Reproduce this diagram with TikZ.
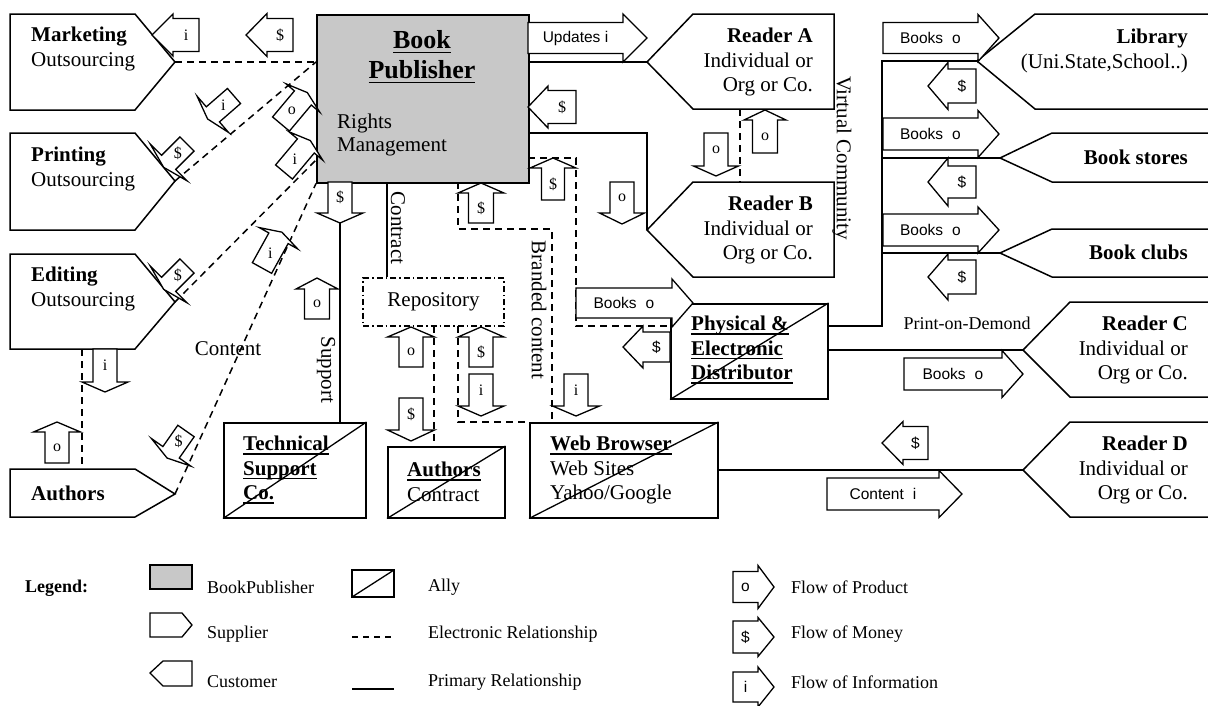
\documentclass[tikz,border=0pt]{standalone}
\usepackage{fontspec}
\setmainfont{Liberation Serif}
\newfontfamily\sansf{Liberation Sans}
\definecolor{pubgray}{RGB}{200,200,200}
\newcommand\ulb[1]{\setbox0\hbox{#1}\rlap{\rule[-0.19em]{\wd0}{0.075em}}\box0}
\newcommand\blk[9]{%
  \begin{scope}[shift={(#1,#2)},rotate=#3]
    \draw[blkst] (0,-#6) -- (#4,-#6) -- (#4,-#7) -- ({#4+#5},0) -- (#4,#7) -- (#4,#6) -- (0,#6) -- cycle;
    \node[#9] at ({#4/2},0) {#8};
  \end{scope}}
\tikzset{
  ln/.style={line width=1.5pt},
  el/.style={line width=1.5pt, dash pattern=on 7pt off 5pt},
  shp/.style={draw, line width=1.5pt, fill=white, line join=miter},
  blkst/.style={draw, line width=1.3pt, fill=white, line join=miter},
  lbls/.style={inner sep=0pt, font=\fontsize{16}{18}\selectfont},
  lblf/.style={inner sep=0pt, font=\sansf\fontsize{15.5}{17}\selectfont},
  big/.style={inner sep=0pt, font=\fontsize{21}{24.5}\selectfont, align=left},
  bigb/.style={inner sep=0pt, font=\bfseries\fontsize{21}{24.5}\selectfont, align=left},
  bigr/.style={inner sep=0pt, font=\fontsize{21}{24.5}\selectfont, align=right, anchor=east},
  rot/.style={inner sep=0pt, font=\fontsize{21}{24.5}\selectfont, rotate=-90},
  leg/.style={inner sep=0pt, font=\fontsize{18}{20}\selectfont, anchor=west},
  ally/.style={draw, line width=1.5pt, fill=white, anchor=north west, inner sep=0pt},
}
\begin{document}
\begin{tikzpicture}[x=1pt,y=-1pt]
\useasboundingbox (0,0) rectangle (1208,705);

% ---------- named points ----------
\coordinate (mktP) at (175,62);
\coordinate (prtP) at (175,181);
\coordinate (edtP) at (175,302);
\coordinate (autP) at (175,494);
\coordinate (edtB) at (82,349);
\coordinate (autTop) at (82,469);
\coordinate (rdAP) at (647,62);
\coordinate (rdBP) at (647,230);
\coordinate (rdAB) at (740,109);
\coordinate (rdBT) at (740,182);
\coordinate (libP) at (977,61);
\coordinate (bsP) at (1000,158);
\coordinate (bcP) at (1000,253);
\coordinate (rdCP) at (1023,350);
\coordinate (rdDP) at (1023,470);

% ---------- main boxes ----------
\node[draw, line width=1.5pt, fill=pubgray, anchor=north west, minimum width=212pt, minimum height=168pt, inner sep=0pt] (pub) at (316,14) {};
\node[ally, minimum width=157pt, minimum height=95pt] (phys) at (670,303) {};
\node[ally, minimum width=188pt, minimum height=95pt] (web) at (529,422) {};
\node[ally, minimum width=117pt, minimum height=71pt] (acon) at (387,446) {};
\node[ally, minimum width=142pt, minimum height=95pt] (tech) at (223,422) {};
\node[draw, line width=1.3pt, dash pattern=on 6pt off 3pt on 1.5pt off 3pt, minimum width=141pt, minimum height=48pt, inner sep=0pt, font=\fontsize{21}{24.5}\selectfont] (repo) at (433.5,302) {Repository};

% helper points on boxes
\coordinate (pubL1) at (pub.west |- mktP);
\coordinate (pubL2) at (316,160);
\coordinate (pubR1) at (pub.east |- rdAP);
\coordinate (pubR2) at (528,133);
\coordinate (pubR3) at (528,158);
\coordinate (pubB1) at (340,182);
\coordinate (pubB2) at (387,182);
\coordinate (pubB3) at (458,182);
\coordinate (techT) at (tech.north -| pubB1);
\coordinate (repoT) at (repo.north -| pubB2);
\coordinate (repoB1) at (434,326);
\coordinate (repoB2) at (458,326);
\coordinate (aconT) at (acon.north -| repoB1);
\coordinate (webT) at (552,422);
\coordinate (physL) at (670,326);
\coordinate (physR1) at (827,326);
\coordinate (physR2) at (827,350);
\coordinate (webR) at (717,470);
\coordinate (trunk) at (882,326);

% ---------- connectors ----------
\draw[el] (mktP) -- (pubL1);
\draw[el] (prtP) -- (pubL1);
\draw[el] (edtP) -- (pubL2);
\draw[el] (autP) -- (pub.south west);
\draw[el] (edtB) -- (autTop);
\draw[ln] (pubR1) -- (rdAP);
\draw[ln] (pubR2) -| (rdBP);
\draw[el] (rdAB) -- (rdBT);
\draw[ln] (pubB1) -- (techT);
\draw[ln] (pubB2) -- (repoT);
\draw[el] (repoB1) -- (aconT);
\draw[el] (pubB3) -- (458,229) -- (552,229) -- (webT);
\draw[el] (repoB2) -- (458,422) -- (web.north west);
\draw[el] (pubR3) -- (576,158) -- (576,326) -- (physL);
\draw[ln] (physR1) -- (trunk) -- (882,61) -- (libP);
\draw[ln] (882,158) -- (bsP);
\draw[ln] (882,253) -- (bcP);
\draw[ln] (physR2) -- (rdCP);
\draw[ln] (webR) -- (rdDP);

% ---------- supplier / customer shapes ----------
\draw[shp] (10,14) -- (135,14) -- (mktP) -- (135,110) -- (10,110) -- cycle;
\draw[shp] (10,133) -- (135,133) -- (prtP) -- (135,230) -- (10,230) -- cycle;
\draw[shp] (10,254) -- (135,254) -- (edtP) -- (135,349) -- (10,349) -- cycle;
\draw[shp] (10,469) -- (135,469) -- (autP) -- (135,517) -- (10,517) -- cycle;
\draw[shp] (834,14) -- (693,14) -- (rdAP) -- (693,109) -- (834,109) -- cycle;
\draw[shp] (834,182) -- (693,182) -- (rdBP) -- (693,277) -- (834,277) -- cycle;
\draw[shp] (1214,14) -- (1035,14) -- (libP) -- (1035,109) -- (1214,109);
\draw[shp] (1214,133) -- (1052,133) -- (bsP) -- (1052,182) -- (1214,182);
\draw[shp] (1214,229) -- (1052,229) -- (bcP) -- (1052,277) -- (1214,277);
\draw[shp] (1214,302) -- (1070,302) -- (rdCP) -- (1070,397) -- (1214,397);
\draw[shp] (1214,422) -- (1070,422) -- (rdDP) -- (1070,517) -- (1214,517);

% ---------- texts ----------
\node[big, anchor=west] (mktT) at (31,49) {\textbf{Marketing}\\Outsourcing};
\node[big, anchor=west] (prtT) at (31,169) {\textbf{Printing}\\Outsourcing};
\node[big, anchor=west] (edtT) at (31,289) {\textbf{Editing}\\Outsourcing};
\node[bigb, anchor=west] (autT) at (31,493) {Authors};
\node[inner sep=0pt, font=\bfseries\fontsize{26}{30}\selectfont, align=center] (pubT) at (422,57) {\ulb{Book}\\\ulb{Publisher}};
\node[inner sep=0pt, font=\fontsize{21}{23}\selectfont, align=left, anchor=west] (rmT) at (337,135) {Rights\\Management};
\node[bigr] (rdAT) at (813,62) {\textbf{Reader A}\\Individual or\\Org or Co.};
\node[bigr] (rdBT2) at (813,230) {\textbf{Reader B}\\Individual or\\Org or Co.};
\node[bigr] (libT) at (1188,51) {\textbf{Library}\\(Uni.State,School..)};
\node[bigr] (bsT) at (1188,157) {\textbf{Book stores}};
\node[bigr] (bcT) at (1188,252) {\textbf{Book clubs}};
\node[bigr] (rdCT) at (1188,350) {\textbf{Reader C}\\Individual or\\Org or Co.};
\node[bigr] (rdDT) at (1188,470) {\textbf{Reader D}\\Individual or\\Org or Co.};
\node[bigb, anchor=west] (physT) at (691,350) {\ulb{Physical \&}\\\ulb{Electronic}\\\ulb{Distributor}};
\node[big, anchor=west] (webTx) at (550,470) {\textbf{\ulb{Web Browser}}\\Web Sites\\Yahoo/Google};
\node[big, anchor=west] (aconTx) at (407,482) {\textbf{\ulb{Authors}}\\Contract};
\node[bigb, anchor=west] (techTx) at (243,470) {\ulb{Technical}\\\ulb{Support}\\\ulb{Co.}};
\node[big] (cnt) at (228,349) {Content};
\node[inner sep=0pt, font=\fontsize{18}{20}\selectfont] (pod) at (967,323) {Print-on-Demond};
\node[rot] (vc) at (842,158) {Virtual Community};
\node[rot] (ctr) at (398,228) {Contract};
\node[rot] (sup) at (326,370) {Support};
\node[rot] (brc) at (539,310) {Branded content};

% ally diagonals
\draw[line width=1.3pt] (phys.south west) -- (phys.north east);
\draw[line width=1.3pt] (web.south west) -- (web.north east);
\draw[line width=1.3pt] (acon.south west) -- (acon.north east);
\draw[line width=1.3pt] (tech.south west) -- (tech.north east);

% ---------- block arrows ----------
\blk{199}{35}{180}{26}{21}{16.5}{21}{i}{name=a1,lbls}
\blk{293}{35}{180}{26}{21}{16.5}{21.5}{\$}{name=a2,lbls}
\blk{528}{38}{0}{95}{24}{15.5}{24}{Updates i}{name=a3,lblf}
\blk{576}{107}{180}{28}{20}{16.5}{21}{\$}{name=a4,lbls}
\blk{765}{153}{90}{33}{10}{12.5}{21}{o}{name=a5,lbls}
\blk{716}{133}{-90}{33}{10}{12}{22.5}{o}{name=a6,lbls}
\blk{622}{182}{-90}{31}{11}{12}{22.5}{o}{name=a7,lbls}
\blk{340}{182}{-90}{31}{10}{12}{23}{\$}{name=a8,lbls}
\blk{481}{223}{90}{30}{10}{12.5}{23}{\$}{name=a9,lbls}
\blk{553}{200}{90}{32}{10}{11.5}{23}{\$}{name=a10,lbls}
\blk{317}{319}{90}{30}{11}{12.5}{21}{o}{name=a11,lbls}
\blk{411}{367}{90}{30}{10}{12}{23.5}{o}{name=a12,lbls}
\blk{411}{398}{-90}{32}{11}{12}{23.5}{\$}{name=a13,lbls}
\blk{481}{367}{90}{30}{10}{12}{23}{\$}{name=a14,lbls}
\blk{481}{374}{-90}{32}{10}{12}{23}{i}{name=a15,lbls}
\blk{576}{374}{-90}{32}{10}{12}{23.5}{i}{name=a16,lbls}
\blk{576}{303}{0}{96}{21}{15}{24}{Books\hspace{9pt}o}{name=a17,lblf}
\blk{670}{347}{180}{27}{20}{15}{21}{\$}{name=a18,lblf}
\blk{883}{38}{0}{95}{21}{15.5}{23.5}{Books\hspace{9pt}o}{name=a19,lblf}
\blk{883}{134}{0}{95}{21}{16}{23.5}{Books\hspace{9pt}o}{name=a20,lblf}
\blk{883}{230}{0}{95}{21}{16}{23}{Books\hspace{9pt}o}{name=a21,lblf}
\blk{976}{86}{180}{28}{20}{17}{23.5}{\$}{name=a22,lblf}
\blk{976}{182}{180}{28}{20}{16}{24}{\$}{name=a23,lblf}
\blk{976}{277}{180}{28}{20}{17}{23}{\$}{name=a24,lblf}
\blk{904}{374}{0}{98}{21}{16}{23.5}{Books\hspace{9pt}o}{name=a25,lblf}
\blk{928}{443}{180}{25}{21}{16.5}{21.5}{\$}{name=a26,lblf}
\blk{827}{494}{0}{112}{23}{16}{23.5}{Content\hspace{9pt}i}{name=a27,lblf}
\blk{105}{349}{-90}{33}{10}{12}{23}{i}{name=a28,lbls}
\blk{57}{463}{90}{31}{10}{12}{23.5}{o}{name=a29,lbls}
% diagonal arrows
\blk{234}{96}{221}{28}{7}{10}{24}{i}{name=d1,lbls}
\blk{187}{144}{225}{26}{7}{10}{26}{\$}{name=d2,lbls}
\blk{187}{266}{225}{26}{7}{10}{26}{\$}{name=d3,lbls}
\blk{186}{431}{235}{26}{7}{10}{24}{\$}{name=d4,lbls}
\blk{281}{124}{50}{34}{7}{11}{22}{o}{name=d5,lbls}
\blk{284}{172}{50}{34}{7}{11}{22}{i}{name=d6,lbls}
\blk{262}{268}{61}{34}{7}{11}{22}{i}{name=d7,lbls}

% ---------- legend ----------
\node[inner sep=0pt, font=\bfseries\fontsize{18}{20}\selectfont, anchor=west] (legT) at (25,588) {Legend:};
\draw[line width=1.3pt, fill=pubgray] (150,565) rectangle (192,589);
\node[leg] (lg1) at (207,587) {BookPublisher};
\draw[line width=1.3pt] (150,613) -- (182,613) -- (192,625) -- (182,637) -- (150,637) -- cycle;
\node[leg] (lg2) at (207,634) {Supplier};
\draw[line width=1.3pt] (150,673) -- (163,661) -- (192,661) -- (192,686) -- (163,686) -- cycle;
\node[leg] (lg3) at (207,682) {Customer};
\draw[line width=1.3pt] (352,570) rectangle (394,597);
\draw[line width=1.3pt] (352,597) -- (394,570);
\node[leg] (lg4) at (428,587) {Ally};
\draw[line width=1.3pt, dash pattern=on 6pt off 5pt] (352,637) -- (394,637);
\node[leg] (lg5) at (428,634) {Electronic Relationship};
\draw[line width=1.3pt] (352,689) -- (394,689);
\node[leg] (lg6) at (428,682) {Primary Relationship};
\blk{733}{587}{0}{25}{16}{15.5}{21.5}{o}{name=l1,lblf}
\blk{733}{637}{0}{25}{16}{16}{19.5}{\$}{name=l2,lblf}
\blk{733}{687}{0}{25}{16}{15}{20}{i}{name=l3,lblf}
\node[leg] (lg7) at (791,587) {Flow of Product};
\node[leg] (lg8) at (791,634) {Flow of Money};
\node[leg] (lg9) at (791,682) {Flow of Information};
\end{tikzpicture}
\end{document}
